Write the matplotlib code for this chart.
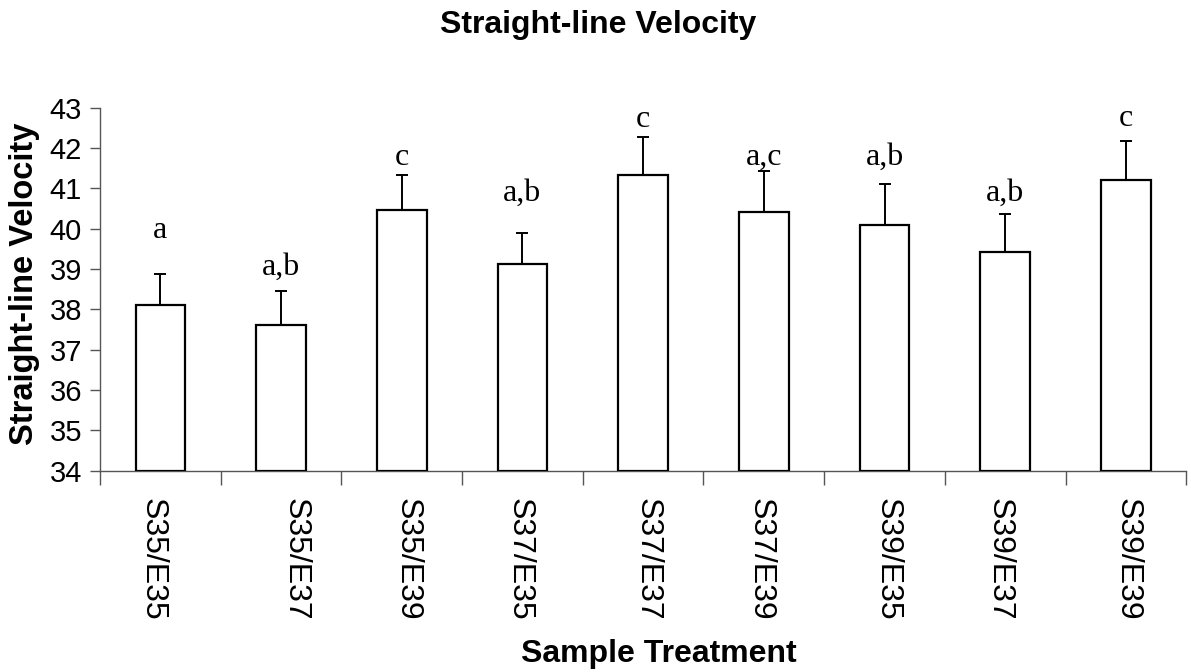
import numpy as np
import matplotlib
matplotlib.use('Agg')
import matplotlib.pyplot as plt

# values
treatments = ['S35/E35', 'S35/E37', 'S35/E39', 'S37/E35', 'S37/E37',
              'S37/E39', 'S39/E35', 'S39/E37', 'S39/E39']
velocity = [38.10, 37.62, 40.47, 39.13, 41.34, 40.42, 40.09, 39.41, 41.20]
err = [0.78, 0.83, 0.87, 0.76, 0.92, 1.01, 1.01, 0.96, 0.96]
letters = ['a', 'a,b', 'c', 'a,b', 'c', 'a,c', 'a,b', 'a,b', 'c']
letter_y = [39.76, 38.85, 41.57, 40.70, 42.52, 41.57, 41.57, 40.70, 42.54]

# the category labels in the original sit a little off-centre
label_shift = [-5.8, 10.4, 4.0, -2.2, 3.2, -2.5, 2.2, -4.0, 1.1]

plt.rcParams['font.family'] = ['Liberation Sans', 'DejaVu Sans']

fig = plt.figure(figsize=(11.91, 6.72), dpi=100)
ax = fig.add_axes([0.084, 0.2995, 0.912, 0.5405])

x = np.arange(len(treatments))
base = 34
ax.bar(x, np.array(velocity) - base, bottom=base, width=0.41,
       color='white', edgecolor='black', linewidth=1.6, zorder=3)
ax.errorbar(x, velocity, yerr=[np.zeros(len(err)), err], fmt='none',
            ecolor='black', elinewidth=1.4, capsize=4, capthick=1.4, zorder=2)

for xi, ly, t in zip(x, letter_y, letters):
    ax.text(xi, ly, t, ha='center', va='baseline', fontsize=23,
            family='Liberation Serif')

ax.set_xlim(-0.5, len(treatments) - 0.5)
ax.set_ylim(34, 43)
ax.set_yticks(range(34, 44))
ax.tick_params(axis='y', labelsize=21, length=7, width=1, color='#555555', pad=6)

# ticks sit between categories, labels in the middle
ax.set_xticks(np.arange(len(treatments) + 1) - 0.5)
ax.set_xticklabels([])
ax.tick_params(axis='x', which='major', length=10, width=1, color='#555555')
for xi, t, dx in zip(x, treatments, label_shift):
    ax.annotate(t, xy=(xi, 0), xycoords=('data', 'axes fraction'),
                xytext=(dx, -19.5), textcoords='offset points',
                rotation=270, ha='center', va='top', fontsize=23)

for s in ['top', 'right']:
    ax.spines[s].set_visible(False)
for s in ['left', 'bottom']:
    ax.spines[s].set_color('#555555')
    ax.spines[s].set_linewidth(1)

fig.text(25 / 1191, 1 - 283.5 / 672, 'Straight-line Velocity', rotation=90,
         ha='center', va='center', fontsize=23.5, fontweight='bold')
fig.text(659 / 1191, 1 - 662 / 672, 'Sample Treatment', ha='center', va='baseline',
         fontsize=23, fontweight='bold')
fig.text(598 / 1191, 1 - 33 / 672, 'Straight-line Velocity', ha='center', va='baseline',
         fontsize=23, fontweight='bold')

fig.savefig('out.png', dpi=100)
